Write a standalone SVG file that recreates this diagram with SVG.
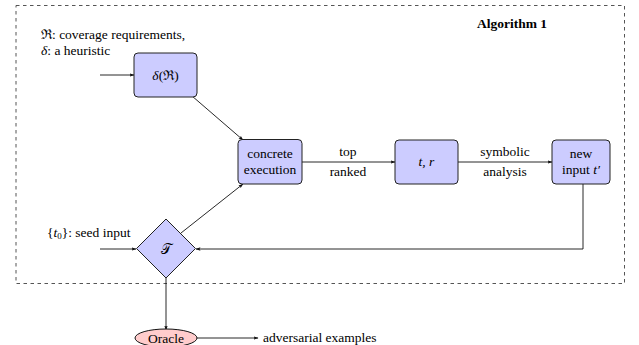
<svg xmlns="http://www.w3.org/2000/svg" width="639" height="345" viewBox="0 0 639 345">
<defs>
<style>
.t{font-family:"Liberation Serif","DejaVu Serif",serif;font-size:13.5px;fill:#000}
.m{font-family:"Liberation Serif","DejaVu Serif",serif;font-style:italic;font-size:13.5px;fill:#000}
.box{fill:#ccccff;stroke:#222;stroke-width:1}
.c{fill:none;stroke:#111;stroke-width:0.9}
</style>
<marker id="a" viewBox="0 0 10 10" refX="9" refY="5" markerWidth="5" markerHeight="5" orient="auto" markerUnits="userSpaceOnUse">
<path d="M0,1.5 L10,5 L0,8.5 L2,5 Z" fill="#111"/>
</marker>
</defs>
<rect width="639" height="345" fill="#fff"/>
<rect x="16" y="5.5" width="608.5" height="278" fill="none" stroke="#555" stroke-width="1" stroke-dasharray="3.5,3.5"/>
<text class="t" x="477" y="28" font-weight="bold" font-size="14px">Algorithm 1</text>
<text class="t" x="41" y="39">ℜ: coverage requirements,</text>
<text class="t" x="41" y="55"><tspan class="m">δ</tspan>: a heuristic</text>
<text class="t" x="47" y="237">{<tspan class="m">t</tspan><tspan font-size="9px" dy="2">0</tspan><tspan dy="-2">}: seed input</tspan></text>

<g id="conn">
<line class="c" x1="100" y1="75" x2="134" y2="75" marker-end="url(#a)"/>
<line class="c" x1="192" y1="96" x2="243" y2="140" marker-end="url(#a)"/>
<line class="c" x1="181" y1="233" x2="243" y2="184" marker-end="url(#a)"/>
<line class="c" x1="302" y1="162" x2="395" y2="162" marker-end="url(#a)"/>
<line class="c" x1="458" y1="162" x2="552" y2="162" marker-end="url(#a)"/>
<polyline class="c" points="583,184 583,249 196,249" marker-end="url(#a)"/>
<line class="c" x1="100" y1="249" x2="136" y2="249" marker-end="url(#a)"/>
<line class="c" x1="166" y1="278" x2="166" y2="330" marker-end="url(#a)"/>
<line class="c" x1="197" y1="338" x2="258" y2="338" marker-end="url(#a)"/>
<text class="t" x="348" y="156" text-anchor="middle">top</text>
<text class="t" x="348" y="176" text-anchor="middle">ranked</text>
<text class="t" x="505" y="156" text-anchor="middle">symbolic</text>
<text class="t" x="505" y="176" text-anchor="middle">analysis</text>
<text class="t" x="263" y="342">adversarial examples</text>
</g>

<g id="delta">
<rect class="box" x="134" y="53" width="63" height="44" rx="4"/>
<text class="t" x="165.5" y="80" text-anchor="middle"><tspan class="m">δ</tspan>(ℜ)</text>
</g>
<g id="concrete">
<rect class="box" x="238" y="139.5" width="64" height="44.5" rx="4"/>
<text class="t" x="270" y="158" text-anchor="middle">concrete</text>
<text class="t" x="270" y="174" text-anchor="middle">execution</text>
</g>
<g id="tr">
<rect class="box" x="395" y="140" width="63" height="44" rx="4"/>
<text class="m" x="426.5" y="166" text-anchor="middle">t, r</text>
</g>
<g id="newinput">
<rect class="box" x="552" y="140" width="58" height="44" rx="4"/>
<text class="t" x="581" y="158" text-anchor="middle">new</text>
<text class="t" x="581" y="174" text-anchor="middle">input <tspan class="m">t′</tspan></text>
</g>
<g id="T">
<polygon class="box" points="166,219 195.5,248.5 166,278 136.5,248.5"/>
<text class="t" x="166" y="254" text-anchor="middle" font-size="15px">𝒯</text>
</g>
<g id="oracle">
<ellipse cx="166" cy="338" rx="31" ry="9" fill="#ffcccc" stroke="#111" stroke-width="1"/>
<text class="t" x="166" y="342.5" text-anchor="middle">Oracle</text>
</g>
</svg>
